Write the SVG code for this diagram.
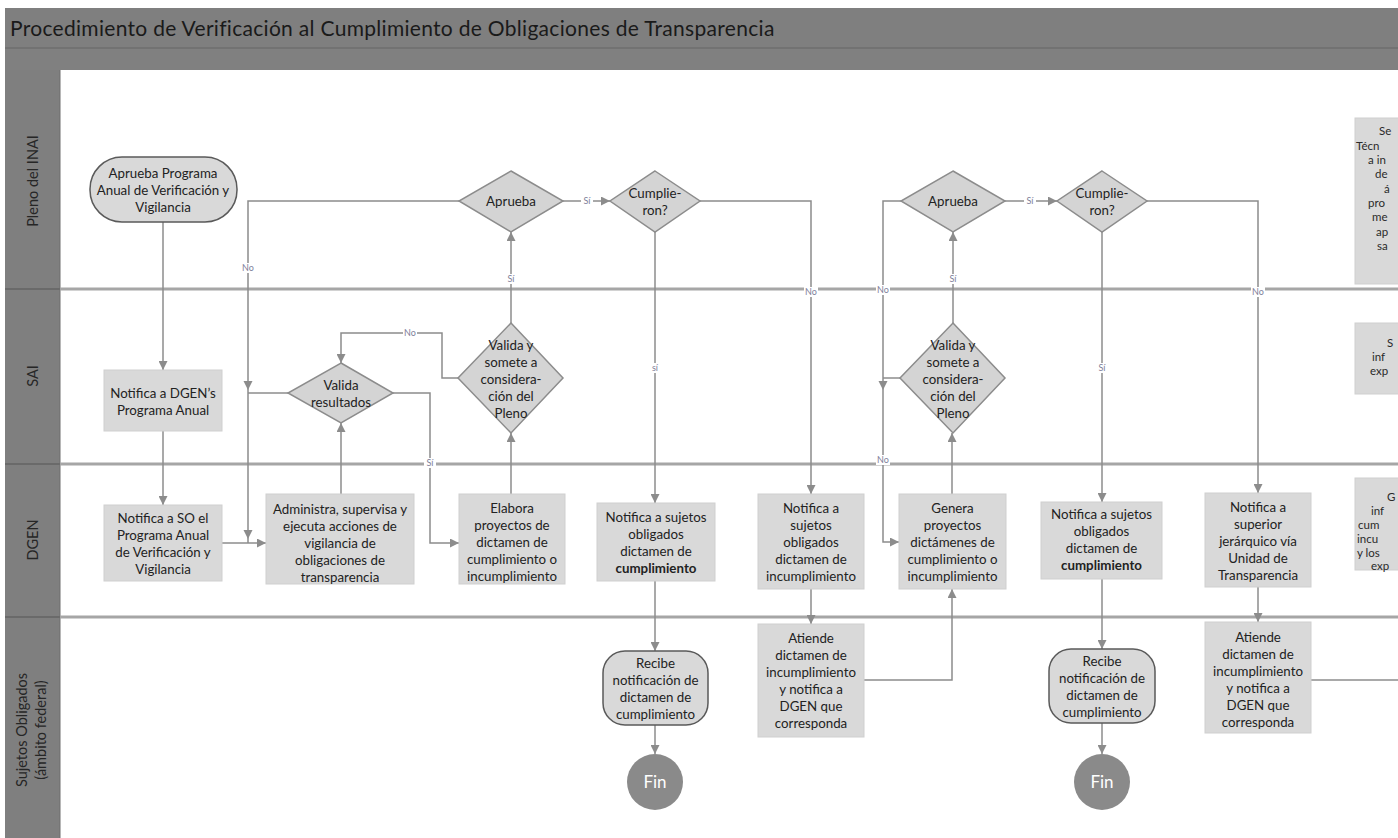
<svg xmlns="http://www.w3.org/2000/svg" width="1398" height="838" viewBox="0 0 1398 838">
<style>
.t{font-family:Lato,"Liberation Sans",sans-serif;font-size:13.3px;fill:#222222;text-anchor:middle}
.ts{font-family:Lato,"Liberation Sans",sans-serif;font-size:11.5px;fill:#2a2a2a}
.lane{font-family:Lato,"Liberation Sans",sans-serif;font-size:14.5px;fill:#262626;text-anchor:middle}
.box{fill:#d9d9d9;stroke:#cfcfcf;stroke-width:1}
.dia{fill:#d4d4d4;stroke:#8c8c8c;stroke-width:1.5}
.term{fill:#d9d9d9;stroke:#5a5a5a;stroke-width:1.5}
.fin{fill:#8a8a8a}
.fint{font-family:Lato,"Liberation Sans",sans-serif;font-size:17px;fill:#ffffff;text-anchor:middle}
.c{fill:none;stroke:#8c8c8c;stroke-width:1.5}
.ca{fill:none;stroke:#8c8c8c;stroke-width:1.5;marker-end:url(#ah)}
.lb{font-family:Lato,"Liberation Sans",sans-serif;font-size:9px;fill:#80809a;text-anchor:middle}
.lbg{fill:#ffffff}
.sep{stroke:#a6a6a6;stroke-width:3}
.sepd{stroke:#6a6a6a;stroke-width:2}
</style>
<defs>
<marker id="ah" viewBox="0 0 10 10" refX="10" refY="5" markerWidth="9" markerHeight="9" markerUnits="userSpaceOnUse" orient="auto">
<path d="M0,0 L10,5 L0,10 z" fill="#8c8c8c"/>
</marker>
</defs>
<rect x="0" y="0" width="1398" height="838" fill="#ffffff"/>
<g id="frame">
<rect x="5" y="8" width="1393" height="40" fill="#7f7f7f"/>
<rect x="5" y="48" width="1393" height="22" fill="#808080"/>
<line x1="5" y1="48" x2="1398" y2="48" stroke="#6e6e6e" stroke-width="1.5"/>
<rect x="5" y="70" width="55" height="768" fill="#7f7f7f"/>
<line x1="60" y1="70" x2="60" y2="838" stroke="#6e6e6e" stroke-width="1"/>
<text x="10" y="36" font-family="Lato,'Liberation Sans',sans-serif" font-size="21" letter-spacing="0.3" fill="#1a1a1a">Procedimiento de Verificación al Cumplimiento de Obligaciones de Transparencia</text>
</g>
<g id="lanes">
<line class="sep" x1="60" y1="289" x2="1398" y2="289"/>
<line class="sep" x1="60" y1="464" x2="1398" y2="464"/>
<line class="sep" x1="60" y1="617" x2="1398" y2="617"/>
<line class="sepd" x1="5" y1="289" x2="60" y2="289"/>
<line class="sepd" x1="5" y1="464" x2="60" y2="464"/>
<line class="sepd" x1="5" y1="617" x2="60" y2="617"/>
<text class="lane" transform="translate(38,181) rotate(-90)">Pleno del INAI</text>
<text class="lane" transform="translate(38,376) rotate(-90)">SAI</text>
<text class="lane" transform="translate(38,540) rotate(-90)">DGEN</text>
<text class="lane" transform="translate(27,730) rotate(-90)">Sujetos Obligados</text>
<text class="lane" transform="translate(46,730) rotate(-90)">(ámbito federal)</text>
</g>
<g id="connectors">
<path class="ca" d="M163,222 V370"/>
<path class="ca" d="M163,431 V505"/>
<path class="ca" d="M222,543 H266"/>
<path class="ca" d="M341,494 V423"/>
<path class="c" d="M459,201 H248 V543"/>
<path class="c" d="M288,393 H248"/>
<polygon points="243.5,381 252.5,381 248,390" fill="#8c8c8c"/>
<polygon points="243.5,530 252.5,530 248,539" fill="#8c8c8c"/>
<path class="ca" d="M393,393 H430 V543 H459"/>
<path class="ca" d="M511,494 V433"/>
<path class="ca" d="M458,378 H442 V333 H341 V363"/>
<path class="ca" d="M511,323 V232"/>
<path class="ca" d="M563,201 H610"/>
<path class="ca" d="M655,232 V503"/>
<path class="ca" d="M655,581 V651"/>
<path class="ca" d="M655,725 V754"/>
<path class="ca" d="M700,201 H811 V494"/>
<path class="ca" d="M811,589 V624"/>
<path class="ca" d="M864,680 H952 V589"/>
<path class="ca" d="M952,494 V433"/>
<path class="ca" d="M901,201 H883 V542 H899"/>
<path class="c" d="M900,378 H883"/>
<polygon points="878.5,381 887.5,381 883,390" fill="#8c8c8c"/>
<path class="ca" d="M953,323 V232"/>
<path class="ca" d="M1005,201 H1057"/>
<path class="ca" d="M1102,232 V502"/>
<path class="ca" d="M1102,579 V649"/>
<path class="ca" d="M1102,723 V754"/>
<path class="ca" d="M1147,201 H1258 V493"/>
<path class="ca" d="M1258,587 V622"/>
<path class="c" d="M1311,680 H1398"/>
<g id="edge-labels">
<rect class="lbg" x="241" y="263" width="14" height="10"/><text class="lb" x="248" y="271">No</text>
<rect class="lbg" x="424" y="458" width="12" height="10"/><text class="lb" x="430" y="466">Sí</text>
<rect class="lbg" x="403" y="328" width="14" height="10"/><text class="lb" x="410" y="336">No</text>
<rect class="lbg" x="505" y="274" width="12" height="10"/><text class="lb" x="511" y="282">Sí</text>
<rect class="lbg" x="581" y="196" width="12" height="10"/><text class="lb" x="587" y="204">Sí</text>
<rect class="lbg" x="649" y="363" width="12" height="10"/><text class="lb" x="655" y="371">sí</text>
<rect class="lbg" x="804" y="287" width="14" height="10"/><text class="lb" x="811" y="295">No</text>
<rect class="lbg" x="876" y="285" width="14" height="10"/><text class="lb" x="883" y="293">No</text>
<rect class="lbg" x="876" y="455" width="14" height="10"/><text class="lb" x="883" y="463">No</text>
<rect class="lbg" x="947" y="274" width="12" height="10"/><text class="lb" x="953" y="282">Sí</text>
<rect class="lbg" x="1024" y="196" width="12" height="10"/><text class="lb" x="1030" y="204">Sí</text>
<rect class="lbg" x="1096" y="363" width="12" height="10"/><text class="lb" x="1102" y="371">Sí</text>
<rect class="lbg" x="1251" y="287" width="14" height="10"/><text class="lb" x="1258" y="295">No</text>
</g>
</g>
<g id="n1"><rect class="term" x="90" y="157" width="147" height="65" rx="32" ry="32"/>
<text class="t" x="163" y="177.5">Aprueba Programa<tspan x="163" dy="17">Anual de Verificación y</tspan><tspan x="163" dy="17">Vigilancia</tspan></text></g>
<g id="n2"><rect class="box" x="104" y="370" width="118" height="61"/>
<text class="t" x="163" y="398">Notifica a DGEN’s<tspan x="163" dy="17">Programa Anual</tspan></text></g>
<g id="n3"><rect class="box" x="104" y="505" width="118" height="76"/>
<text class="t" x="163" y="522.5">Notifica a SO el<tspan x="163" dy="17">Programa Anual</tspan><tspan x="163" dy="17">de Verificación y</tspan><tspan x="163" dy="17">Vigilancia</tspan></text></g>
<g id="n4"><rect class="box" x="266" y="494" width="148" height="90"/>
<text class="t" x="340" y="513.5">Administra, supervisa y<tspan x="340" dy="17">ejecuta acciones de</tspan><tspan x="340" dy="17">vigilancia de</tspan><tspan x="340" dy="17">obligaciones de</tspan><tspan x="340" dy="17">transparencia</tspan></text></g>
<g id="n5"><polygon class="dia" points="341,363 393,393 341,423 288,393"/>
<text class="t" x="341" y="390">Valida<tspan x="341" dy="17">resultados</tspan></text></g>
<g id="n6"><polygon class="dia" points="511,323 563,378 511,433 458,378"/>
<text class="t" x="511" y="350">Valida y<tspan x="511" dy="17">somete a</tspan><tspan x="511" dy="17">considera-</tspan><tspan x="511" dy="17">ción del</tspan><tspan x="511" dy="17">Pleno</tspan></text></g>
<g id="n7"><polygon class="dia" points="511,171 563,201 511,232 459,201"/>
<text class="t" x="511" y="205.5">Aprueba</text></g>
<g id="n8"><polygon class="dia" points="655,171 700,201 655,232 610,201"/>
<text class="t" x="655" y="198">Cumplie-<tspan x="655" dy="17">ron?</tspan></text></g>
<g id="n9"><rect class="box" x="459" y="494" width="106" height="90"/>
<text class="t" x="512" y="513">Elabora<tspan x="512" dy="17">proyectos de</tspan><tspan x="512" dy="17">dictamen de</tspan><tspan x="512" dy="17">cumplimiento o</tspan><tspan x="512" dy="17">incumplimiento</tspan></text></g>
<g id="n10"><rect class="box" x="597" y="503" width="118" height="78"/>
<text class="t" x="656" y="521.5">Notifica a sujetos<tspan x="656" dy="17">obligados</tspan><tspan x="656" dy="17">dictamen de</tspan><tspan x="656" dy="17" font-weight="bold">cumplimiento</tspan></text></g>
<g id="n11"><rect class="box" x="758" y="494" width="106" height="95"/>
<text class="t" x="811" y="513">Notifica a<tspan x="811" dy="17">sujetos</tspan><tspan x="811" dy="17">obligados</tspan><tspan x="811" dy="17">dictamen de</tspan><tspan x="811" dy="17">incumplimiento</tspan></text></g>
<g id="n12"><rect class="box" x="899" y="494" width="107" height="95"/>
<text class="t" x="952.5" y="513">Genera<tspan x="952.5" dy="17">proyectos</tspan><tspan x="952.5" dy="17">dictámenes de</tspan><tspan x="952.5" dy="17">cumplimiento o</tspan><tspan x="952.5" dy="17">incumplimiento</tspan></text></g>
<g id="n13"><rect class="term" x="603" y="651" width="105" height="74" rx="22" ry="22"/>
<text class="t" x="655.5" y="668">Recibe<tspan x="655.5" dy="17">notificación de</tspan><tspan x="655.5" dy="17">dictamen de</tspan><tspan x="655.5" dy="17">cumplimiento</tspan></text></g>
<g id="n14"><circle class="fin" cx="655" cy="782" r="28"/><text class="fint" x="655" y="788">Fin</text></g>
<g id="n15"><rect class="box" x="758" y="624" width="106" height="113"/>
<text class="t" x="811" y="643">Atiende<tspan x="811" dy="17">dictamen de</tspan><tspan x="811" dy="17">incumplimiento</tspan><tspan x="811" dy="17">y notifica a</tspan><tspan x="811" dy="17">DGEN que</tspan><tspan x="811" dy="17">corresponda</tspan></text></g>
<g id="n16"><polygon class="dia" points="953,171 1005,201 953,232 901,201"/>
<text class="t" x="953" y="205.5">Aprueba</text></g>
<g id="n17"><polygon class="dia" points="1102,171 1147,201 1102,232 1057,201"/>
<text class="t" x="1102" y="198">Cumplie-<tspan x="1102" dy="17">ron?</tspan></text></g>
<g id="n18"><polygon class="dia" points="953,323 1005,378 953,433 900,378"/>
<text class="t" x="953" y="350">Valida y<tspan x="953" dy="17">somete a</tspan><tspan x="953" dy="17">considera-</tspan><tspan x="953" dy="17">ción del</tspan><tspan x="953" dy="17">Pleno</tspan></text></g>
<g id="n19"><rect class="box" x="1041" y="502" width="121" height="77"/>
<text class="t" x="1101.5" y="519">Notifica a sujetos<tspan x="1101.5" dy="17">obligados</tspan><tspan x="1101.5" dy="17">dictamen de</tspan><tspan x="1101.5" dy="17" font-weight="bold">cumplimiento</tspan></text></g>
<g id="n20"><rect class="box" x="1205" y="493" width="106" height="94"/>
<text class="t" x="1258" y="511.5">Notifica a<tspan x="1258" dy="17">superior</tspan><tspan x="1258" dy="17">jerárquico vía</tspan><tspan x="1258" dy="17">Unidad de</tspan><tspan x="1258" dy="17">Transparencia</tspan></text></g>
<g id="n21"><rect class="box" x="1205" y="622" width="106" height="111"/>
<text class="t" x="1258" y="641.5">Atiende<tspan x="1258" dy="17">dictamen de</tspan><tspan x="1258" dy="17">incumplimiento</tspan><tspan x="1258" dy="17">y notifica a</tspan><tspan x="1258" dy="17">DGEN que</tspan><tspan x="1258" dy="17">corresponda</tspan></text></g>
<g id="n22"><rect class="term" x="1049" y="649" width="106" height="74" rx="22" ry="22"/>
<text class="t" x="1102" y="666">Recibe<tspan x="1102" dy="17">notificación de</tspan><tspan x="1102" dy="17">dictamen de</tspan><tspan x="1102" dy="17">cumplimiento</tspan></text></g>
<g id="n23"><circle class="fin" cx="1102" cy="782" r="28"/><text class="fint" x="1102" y="788">Fin</text></g>
<g id="n24"><rect class="box" x="1355" y="118" width="50" height="166"/>
<text class="ts" x="1379" y="135">Se</text>
<text class="ts" x="1356" y="150">Técn</text>
<text class="ts" x="1368" y="164">a in</text>
<text class="ts" x="1375" y="178">de</text>
<text class="ts" x="1384" y="193">á</text>
<text class="ts" x="1368" y="207">pro</text>
<text class="ts" x="1372" y="221">me</text>
<text class="ts" x="1376" y="236">ap</text>
<text class="ts" x="1377" y="250">sa</text></g>
<g id="n25"><rect class="box" x="1355" y="323" width="50" height="71"/>
<text class="ts" x="1387" y="347">S</text>
<text class="ts" x="1372" y="361">inf</text>
<text class="ts" x="1370" y="375">exp</text></g>
<g id="n26"><rect class="box" x="1355" y="478" width="50" height="92"/>
<text class="ts" x="1387" y="501">G</text>
<text class="ts" x="1371" y="515">inf</text>
<text class="ts" x="1358" y="529">cum</text>
<text class="ts" x="1357" y="543">incu</text>
<text class="ts" x="1357" y="557">y los</text>
<text class="ts" x="1371" y="570">exp</text></g>
</svg>
